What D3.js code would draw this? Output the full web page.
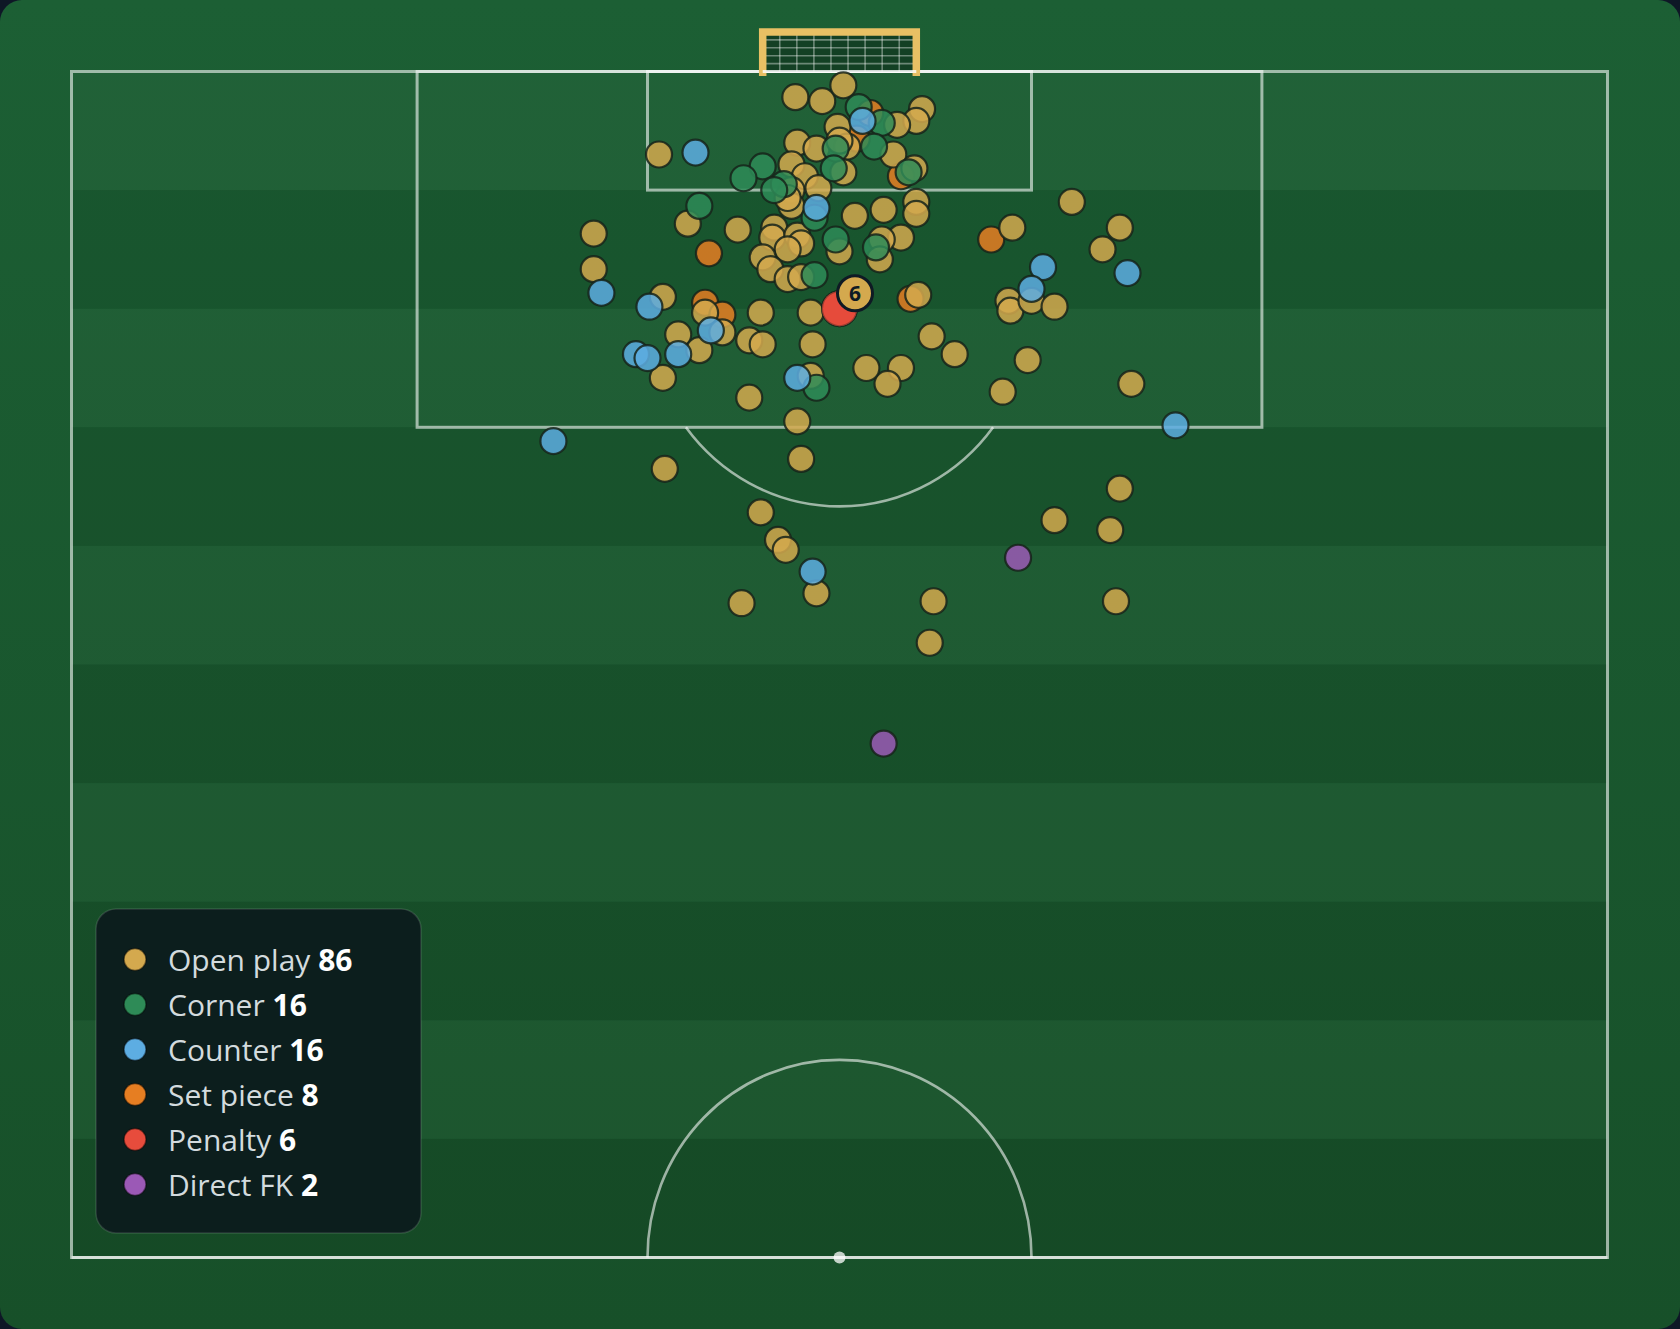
<!DOCTYPE html>
<html><head><meta charset="utf-8">
<script src="https://cdn.jsdelivr.net/npm/d3@7"></script>
<style>
html,body{margin:0;padding:0;background:#0e1726;}
svg{display:block;}
</style></head>
<body>
<svg id="chart" width="1680" height="1329"></svg>
<script>
// Shot locations, StatsBomb-style coordinates: [x = along pitch (120 = goal line, 60 = halfway), y = across (0..80)]
const categories = ["Open play", "Corner", "Counter", "Set piece", "Penalty", "Direct FK"];
const counts = [86, 16, 16, 8, 6, 2];
const colors = ["#d4a94e", "#2e8b57", "#5dade2", "#e67e22", "#e74c3c", "#9b59b6"];

const openPlay = [
  [115.8,30.6],[118.7,37.7],[118.5,39.1],[119.3,40.2],[118.1,44.3],[117.5,44.0],[117.3,43.0],[117.2,39.9],
  [116.2,40.4],[115.8,42.8],[116.4,37.8],[116.1,38.8],[115.3,37.5],[114.7,38.2],[114.0,37.5],[114.1,38.9],
  [114.9,40.2],[115.1,43.9],[113.0,42.3],[113.4,44.0],[112.8,44.0],[111.6,43.2],[111.5,42.2],[110.5,42.1],
  [112.7,40.8],[110.9,40.0],[113.2,37.5],[113.6,37.3],[112.1,36.6],[111.6,36.5],[111.7,37.8],[111.3,38.0],
  [111.0,37.3],[110.6,36.0],[110.0,36.4],[109.5,37.3],[109.6,38.0],[112.0,34.7],[112.3,32.1],[111.8,27.2],
  [110.0,27.2],[113.4,52.1],[112.1,49.0],[112.1,54.6],[111.0,53.7],[108.4,48.8],[107.9,48.9],[108.4,50.0],
  [108.1,51.2],[108.7,44.1],[108.6,30.8],[107.8,33.0],[106.8,33.9],[106.7,31.6],[105.9,32.7],[104.5,30.8],
  [107.8,35.9],[106.4,35.3],[106.2,36.0],[107.8,38.5],[106.2,38.6],[104.6,38.5],[103.5,35.3],[102.3,37.8],
  [106.6,44.8],[105.7,46.0],[105.0,43.2],[104.2,42.5],[105.4,49.8],[103.8,48.5],[104.2,55.2],[105.0,41.4],
  [100.4,38.0],[99.9,30.9],[98.9,54.6],[97.3,51.2],[96.8,54.1],[97.7,35.9],[96.3,36.8],[95.8,37.2],
  [93.6,38.8],[93.1,34.9],[93.2,44.9],[93.2,54.4],[91.1,44.7],[116.5,40.0]
];
const corner = [
  [118.2,41.0],[117.4,42.2],[116.2,41.8],[116.1,39.8],[115.1,39.7],[115.2,36.0],[114.6,35.0],[114.3,37.1],
  [113.2,32.7],[112.6,38.7],[111.5,39.8],[111.1,41.9],[109.7,38.7],[104.0,38.8],[114.9,43.6],[114.0,36.6]
];
const counter = [
  [115.9,32.5],[117.5,41.2],[113.1,38.8],[110.1,50.6],[109.8,55.0],[109.0,50.0],[108.8,27.6],[108.1,30.1],
  [106.9,33.3],[105.7,29.4],[105.5,30.0],[105.7,31.6],[104.5,37.8],[102.1,57.5],[101.3,25.1],[94.7,38.6]
];
const setPiece = [
  [117.9,41.6],[116.6,40.9],[114.7,43.2],[110.8,33.2],[111.5,47.9],[108.3,33.0],[107.7,33.9],[108.5,43.7]
];
const penalty = [[108,40],[108,40],[108,40],[108,40],[108,40],[108,40]];
const directFK = [[95.4,49.3],[86.0,42.3]];

const W = 1680, H = 1329;
const svg = d3.select("#chart");

// scales: across (0..80) -> screen x, along (120..60) -> screen y
const sx = d3.scaleLinear().domain([0, 80]).range([71.5, 1607.5]);
const sy = d3.scaleLinear().domain([120, 60]).range([71.5, 1257.5]);

const defs = svg.append("defs");
const grad = defs.append("linearGradient").attr("id", "bg").attr("x1", 0).attr("x2", 0).attr("y1", 0).attr("y2", 1);
grad.append("stop").attr("offset", "0%").attr("stop-color", "#1c5f34");
grad.append("stop").attr("offset", "100%").attr("stop-color", "#175029");

svg.append("rect").attr("width", W).attr("height", H).attr("fill", "#0e1726");
svg.append("rect").attr("width", W).attr("height", H).attr("rx", 22).attr("fill", "url(#bg)");

// stripes
const stripes = d3.range(10);
svg.append("g").selectAll("rect").data(stripes).join("rect")
  .attr("x", sx(0)).attr("width", sx(80) - sx(0))
  .attr("y", d => sy(120 - d * 6)).attr("height", d => sy(120 - (d + 1) * 6) - sy(120 - d * 6))
  .attr("fill", d => d % 2 === 0 ? "#ffffff" : "#000000")
  .attr("fill-opacity", d => d % 2 === 0 ? 0.025 : 0.075);

// pitch lines
const lines = svg.append("g").attr("fill", "none").attr("stroke", "rgba(255,255,255,0.58)").attr("stroke-width", 3);
lines.append("rect").attr("x", sx(0)).attr("y", sy(120)).attr("width", sx(80) - sx(0)).attr("height", sy(60) - sy(120));
lines.append("rect").attr("x", sx(18)).attr("y", sy(120)).attr("width", sx(62) - sx(18)).attr("height", sy(102) - sy(120));
lines.append("rect").attr("x", sx(30)).attr("y", sy(120)).attr("width", sx(50) - sx(30)).attr("height", sy(114) - sy(120));
lines.append("line").attr("x1", sx(0)).attr("x2", sx(80)).attr("y1", sy(60)).attr("y2", sy(60));
const rx = sx(10) - sx(0), ry = sy(110) - sy(120);
lines.append("path").attr("stroke-width", 2.6)
  .attr("d", `M${sx(32)},${sy(102)} A${rx},${ry} 0 0 0 ${sx(48)},${sy(102)}`);
lines.append("path").attr("stroke-width", 2.6)
  .attr("d", `M${sx(30)},${sy(60)} A${rx},${ry} 0 0 1 ${sx(50)},${sy(60)}`);
svg.append("circle").attr("cx", sx(40)).attr("cy", sy(60)).attr("r", 6).attr("fill", "rgba(255,255,255,0.75)");
svg.append("circle").attr("cx", sx(40)).attr("cy", sy(108)).attr("r", 4).attr("fill", "rgba(255,255,255,0.7)");

// goal
const goal = svg.append("g");
const gTop = sy(122);
goal.append("rect").attr("x", sx(36)).attr("y", gTop).attr("width", sx(44) - sx(36)).attr("height", sy(120) - gTop)
  .attr("fill", "#134024");
const net = goal.append("g").attr("stroke", "rgba(255,255,255,0.38)").attr("stroke-width", 1.6);
net.selectAll("line.v").data(d3.range(1, 9)).join("line").attr("class", "v")
  .attr("x1", d => sx(36 + d * 8 / 9)).attr("x2", d => sx(36 + d * 8 / 9))
  .attr("y1", gTop).attr("y2", sy(120));
net.selectAll("line.h").data(d3.range(1, 5)).join("line").attr("class", "h")
  .attr("y1", d => gTop + d * (sy(120) - gTop) / 5).attr("y2", d => gTop + d * (sy(120) - gTop) / 5)
  .attr("x1", sx(36)).attr("x2", sx(44));
svg.append("line").attr("x1", sx(36)).attr("x2", sx(44)).attr("y1", sy(120)).attr("y2", sy(120))
  .attr("stroke", "rgba(255,255,255,0.8)").attr("stroke-width", 3);
goal.append("path").attr("fill", "none").attr("stroke", "#e8c064").attr("stroke-width", 7.5)
  .attr("stroke-linejoin", "miter")
  .attr("d", `M${sx(36)},${sy(120) + 4.5} V${gTop} H${sx(44)} V${sy(120) + 4.5}`);

// shots
const shotGroups = [
  {data: setPiece, color: colors[3]},
  {data: openPlay, color: colors[0]},
  {data: corner, color: colors[1]},
  {data: counter, color: colors[2]},
  {data: directFK, color: colors[5]}
];
const shots = svg.append("g");
shotGroups.forEach(g => {
  shots.append("g").selectAll("circle").data(g.data).join("circle")
    .attr("cx", d => sx(d[1])).attr("cy", d => sy(d[0])).attr("r", 13)
    .attr("fill", g.color).attr("fill-opacity", 0.85)
    .attr("stroke", "#16231a").attr("stroke-opacity", 0.85).attr("stroke-width", 2.2);
});
shots.append("g").selectAll("circle").data(penalty).join("circle")
  .attr("cx", d => sx(d[1])).attr("cy", d => sy(d[0])).attr("r", 17.5)
  .attr("fill", colors[4]).attr("fill-opacity", 0.65)
  .attr("stroke", "#16231a").attr("stroke-opacity", 0.25).attr("stroke-width", 2);
// count badge
const pb = shots.append("g").attr("transform", `translate(${sx(penalty[0][1]) + 15.5},${sy(penalty[0][0]) - 15.5})`);
pb.append("circle").attr("r", 17.5).attr("fill", colors[0]).attr("stroke", "#0f1a24").attr("stroke-width", 3);
pb.append("text").attr("text-anchor", "middle").attr("dy", "0.36em")
  .attr("font-family", "'Open Sans', sans-serif").attr("font-weight", 700).attr("font-size", 21)
  .attr("fill", "#0f1a24").text(penalty.length);

// legend
const lg = svg.append("g");
lg.append("rect").attr("x", 96).attr("y", 909).attr("width", 325).attr("height", 324).attr("rx", 20)
  .attr("fill", "#0c1e1d").attr("stroke", "rgba(255,255,255,0.13)").attr("stroke-width", 1.5);
const items = lg.selectAll("g.item").data(categories).join("g").attr("class", "item")
  .attr("transform", (d, i) => `translate(135,${959.5 + i * 45})`);
items.append("circle").attr("r", 11).attr("fill", (d, i) => colors[i])
  .attr("stroke", "rgba(0,0,0,0.45)").attr("stroke-width", 1.5);
const tx = items.append("text").attr("x", 33).attr("y", 11.5)
  .attr("font-family", "'Open Sans', sans-serif").attr("font-size", 30);
tx.append("tspan").attr("fill", "#d3dbde").text(d => d + " ");
tx.append("tspan").attr("fill", "#ffffff").attr("font-weight", 700).text((d, i) => counts[i]);
</script>
</body></html>
